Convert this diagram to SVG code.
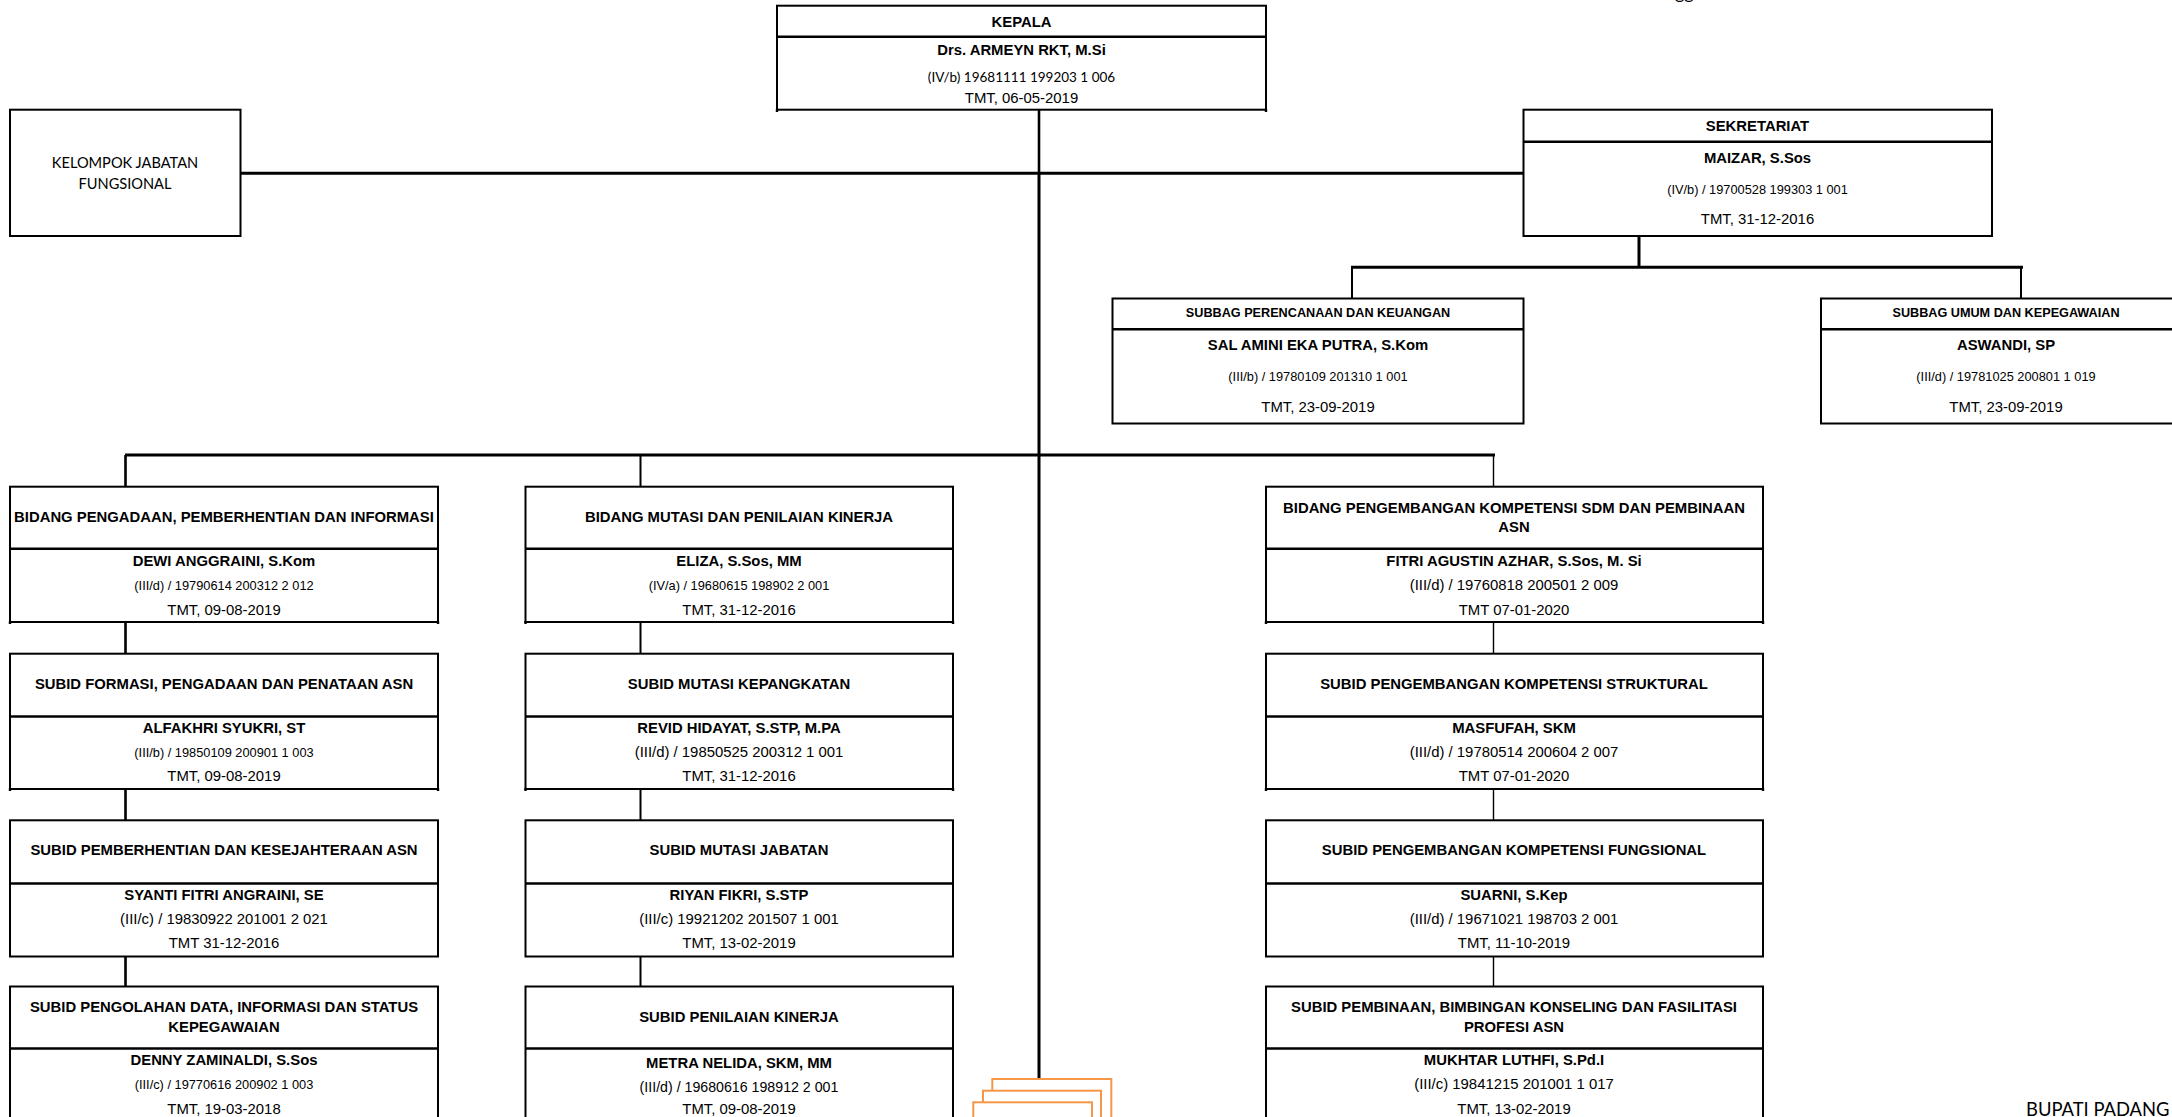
<svg xmlns="http://www.w3.org/2000/svg" width="2172" height="1117" viewBox="0 0 2172 1117">
<style>
text{font-family:"Liberation Sans",Arial,sans-serif;text-anchor:middle;fill:#000}
.t{font-size:14.85px;font-weight:700}
.st{font-size:12.67px;font-weight:700}
.s{font-size:12.8px}
.n{font-size:14.2px}
.m{font-size:14.9px}
.c{font-family:Lato,"Open Sans",sans-serif;font-size:13.5px}
.k{font-family:Lato,"Open Sans",sans-serif;font-size:14.6px}
.bx{fill:#fff;stroke:#000;stroke-width:2}
.dv{fill:none;stroke:#000;stroke-width:2.4}
.w3{fill:none;stroke:#000;stroke-width:3}
.w2{fill:none;stroke:#000;stroke-width:2}
.w25{fill:none;stroke:#000;stroke-width:2.6}
.w1{fill:none;stroke:#000;stroke-width:1.4}
.or{fill:#fff;stroke:#F79646;stroke-width:2}
</style>
<g id="connectors">
<path class="w25" d="M1039 110V173"/>
<path class="w3" d="M1039 173V1078"/>
<path class="w3" d="M241 173.3H1524"/>
<path class="w3" d="M1639 236V267.3"/>
<path class="w3" d="M1351 267.3H2023"/>
<path class="w2" d="M1352 267V299M2021 267V299"/>
<path class="w3" d="M125 455H1495"/>
<path class="w25" d="M125.500 455V487M125.500 622V654M125.500 789V821M125.500 955V987"/>
<path class="w2" d="M640.500 455V487M640.500 622V654M640.500 789V821M640.500 955V987"/>
<path class="w1" d="M1493.500 455V487M1493.500 622V654M1493.500 789V821M1493.500 957V987"/>
</g>
<g id="kepala">
<rect class="bx" x="777" y="5.700" width="489" height="104"/><path class="dv" d="M777 36.700H1266M777 109V112M1266 109V112"/>
<text class="t" x="1021.500" y="26.500">KEPALA</text>
<text class="t" x="1021.500" y="54.500">Drs. ARMEYN RKT, M.Si</text>
<text class="c" x="1021.500" y="82">(IV/b) 19681111 199203 1 006</text>
<text class="m" x="1021.500" y="103">TMT, 06-05-2019</text>
</g>
<g id="jabatan-fungsional">
<rect class="bx" x="10" y="109.700" width="230.500" height="126.300"/>
<text class="k" x="125" y="168">KELOMPOK JABATAN</text>
<text class="k" x="125" y="189">FUNGSIONAL</text>
</g>
<g id="sekretariat">
<rect class="bx" x="1523.500" y="109.700" width="468.500" height="126.300"/><path class="dv" d="M1523.500 141.700H1992"/>
<text class="t" x="1757.500" y="130.500">SEKRETARIAT</text>
<text class="t" x="1757.500" y="162.500">MAIZAR, S.Sos</text>
<text class="s" x="1757.500" y="193.500">(IV/b) / 19700528 199303 1 001</text>
<text class="m" x="1757.500" y="224">TMT, 31-12-2016</text>
</g>
<g id="subbag-perencanaan">
<rect class="bx" x="1112.500" y="298.500" width="411" height="125"/><path class="dv" d="M1112.500 329.300H1523.500"/>
<text class="st" x="1318" y="317">SUBBAG PERENCANAAN DAN KEUANGAN</text>
<text class="t" x="1318" y="350">SAL AMINI EKA PUTRA, S.Kom</text>
<text class="s" x="1318" y="381">(III/b) / 19780109 201310 1 001</text>
<text class="m" x="1318" y="412">TMT, 23-09-2019</text>
</g>
<g id="subbag-umum">
<rect class="bx" x="1821" y="298.500" width="370" height="125"/><path class="dv" d="M1821 329.300H2191"/>
<text class="st" x="2006" y="317">SUBBAG UMUM DAN KEPEGAWAIAN</text>
<text class="t" x="2006" y="350">ASWANDI, SP</text>
<text class="s" x="2006" y="381">(III/d) / 19781025 200801 1 019</text>
<text class="m" x="2006" y="412">TMT, 23-09-2019</text>
</g>
<g id="bidang-a">
<rect class="bx" x="10" y="486.700" width="428" height="135.300"/><path class="dv" d="M10 548.700H438M10 621V624M438 621V624"/>
<text class="t" x="224" y="522">BIDANG PENGADAAN, PEMBERHENTIAN DAN INFORMASI</text>
<text class="t" x="224" y="565.500">DEWI ANGGRAINI, S.Kom</text>
<text class="s" x="224" y="590">(III/d) / 19790614 200312 2 012</text>
<text class="m" x="224" y="614.500">TMT, 09-08-2019</text>
</g>
<g id="subid-a1">
<rect class="bx" x="10" y="653.700" width="428" height="135.300"/><path class="dv" d="M10 716.500H438M10 788V791M438 788V791"/>
<text class="t" x="224" y="689">SUBID FORMASI, PENGADAAN DAN PENATAAN ASN</text>
<text class="t" x="224" y="732.500">ALFAKHRI SYUKRI, ST</text>
<text class="s" x="224" y="757">(III/b) / 19850109 200901 1 003</text>
<text class="m" x="224" y="781">TMT, 09-08-2019</text>
</g>
<g id="subid-a2">
<rect class="bx" x="10" y="820.300" width="428" height="136.200"/><path class="dv" d="M10 883.500H438"/>
<text class="t" x="224" y="855">SUBID PEMBERHENTIAN DAN KESEJAHTERAAN ASN</text>
<text class="t" x="224" y="899.500">SYANTI FITRI ANGRAINI, SE</text>
<text class="m" x="224" y="924">(III/c) / 19830922 201001 2 021</text>
<text class="m" x="224" y="948">TMT 31-12-2016</text>
</g>
<g id="subid-a3">
<rect class="bx" x="10" y="986.500" width="428" height="140"/><path class="dv" d="M10 1048.500H438"/>
<text class="t" x="224" y="1011.500">SUBID PENGOLAHAN DATA, INFORMASI DAN STATUS</text>
<text class="t" x="224" y="1031.500">KEPEGAWAIAN</text>
<text class="t" x="224" y="1064.500">DENNY ZAMINALDI, S.Sos</text>
<text class="s" x="224" y="1089">(III/c) / 19770616 200902 1 003</text>
<text class="m" x="224" y="1114">TMT, 19-03-2018</text>
</g>
<g id="bidang-b">
<rect class="bx" x="525.500" y="486.700" width="427.500" height="135.300"/><path class="dv" d="M525.500 548.700H953M525.500 621V624M953 621V624"/>
<text class="t" x="739" y="522">BIDANG MUTASI DAN PENILAIAN KINERJA</text>
<text class="t" x="739" y="565.500">ELIZA, S.Sos, MM</text>
<text class="s" x="739" y="590">(IV/a) / 19680615 198902 2 001</text>
<text class="m" x="739" y="614.500">TMT, 31-12-2016</text>
</g>
<g id="subid-b1">
<rect class="bx" x="525.500" y="653.700" width="427.500" height="135.300"/><path class="dv" d="M525.500 716.500H953M525.500 788V791M953 788V791"/>
<text class="t" x="739" y="689">SUBID MUTASI KEPANGKATAN</text>
<text class="t" x="739" y="732.500">REVID HIDAYAT, S.STP, M.PA</text>
<text class="m" x="739" y="757">(III/d) / 19850525 200312 1 001</text>
<text class="m" x="739" y="781">TMT, 31-12-2016</text>
</g>
<g id="subid-b2">
<rect class="bx" x="525.500" y="820.300" width="427.500" height="136.200"/><path class="dv" d="M525.500 883.500H953"/>
<text class="t" x="739" y="855">SUBID MUTASI JABATAN</text>
<text class="t" x="739" y="899.500">RIYAN FIKRI, S.STP</text>
<text class="m" x="739" y="924">(III/c) 19921202 201507 1 001</text>
<text class="m" x="739" y="948">TMT, 13-02-2019</text>
</g>
<g id="subid-b3">
<rect class="bx" x="525.500" y="986.500" width="427.500" height="140"/><path class="dv" d="M525.500 1048.500H953"/>
<text class="t" x="739" y="1021.500">SUBID PENILAIAN KINERJA</text>
<text class="t" x="739" y="1067.500">METRA NELIDA, SKM, MM</text>
<text class="n" x="739" y="1092">(III/d) / 19680616 198912 2 001</text>
<text class="m" x="739" y="1114">TMT, 09-08-2019</text>
</g>
<g id="bidang-c">
<rect class="bx" x="1266" y="486.700" width="497" height="135.300"/><path class="dv" d="M1266 548.700H1763M1266 621V624M1763 621V624"/>
<text class="t" x="1514" y="512.500">BIDANG PENGEMBANGAN KOMPETENSI SDM DAN PEMBINAAN</text>
<text class="t" x="1514" y="531.500">ASN</text>
<text class="t" x="1514" y="565.500">FITRI AGUSTIN AZHAR, S.Sos, M. Si</text>
<text class="m" x="1514" y="590">(III/d) / 19760818 200501 2 009</text>
<text class="m" x="1514" y="614.500">TMT 07-01-2020</text>
</g>
<g id="subid-c1">
<rect class="bx" x="1266" y="653.700" width="497" height="135.300"/><path class="dv" d="M1266 716.500H1763M1266 788V791M1763 788V791"/>
<text class="t" x="1514" y="689">SUBID PENGEMBANGAN KOMPETENSI STRUKTURAL</text>
<text class="t" x="1514" y="732.500">MASFUFAH, SKM</text>
<text class="m" x="1514" y="757">(III/d) / 19780514 200604 2 007</text>
<text class="m" x="1514" y="781">TMT 07-01-2020</text>
</g>
<g id="subid-c2">
<rect class="bx" x="1266" y="820.300" width="497" height="136.200"/><path class="dv" d="M1266 883.500H1764"/>
<text class="t" x="1514" y="855">SUBID PENGEMBANGAN KOMPETENSI FUNGSIONAL</text>
<text class="t" x="1514" y="899.500">SUARNI, S.Kep</text>
<text class="m" x="1514" y="924">(III/d) / 19671021 198703 2 001</text>
<text class="m" x="1514" y="948">TMT, 11-10-2019</text>
</g>
<g id="subid-c3">
<rect class="bx" x="1266" y="986.500" width="497" height="140"/><path class="dv" d="M1266 1048.500H1764"/>
<text class="t" x="1514" y="1011.500">SUBID PEMBINAAN, BIMBINGAN KONSELING DAN FASILITASI</text>
<text class="t" x="1514" y="1031.500">PROFESI ASN</text>
<text class="t" x="1514" y="1064.500">MUKHTAR LUTHFI, S.Pd.I</text>
<text class="m" x="1514" y="1089">(III/c) 19841215 201001 1 017</text>
<text class="m" x="1514" y="1114">TMT, 13-02-2019</text>
</g>
<g id="stack">
<rect class="or" x="992.300" y="1079" width="119" height="60"/>
<rect class="or" x="983" y="1090.700" width="118" height="60"/>
<rect class="or" x="973.300" y="1102.300" width="118.700" height="60"/>
</g>
<g id="bupati">
<text class="k" style="font-size:18.400px;text-anchor:start" x="2026" y="1116">BUPATI PADANG</text>
</g>
<g id="clipped-top">
<text class="c" style="font-size:18px;text-anchor:start" x="1675" y="-1">gg</text>
</g>
</svg>
